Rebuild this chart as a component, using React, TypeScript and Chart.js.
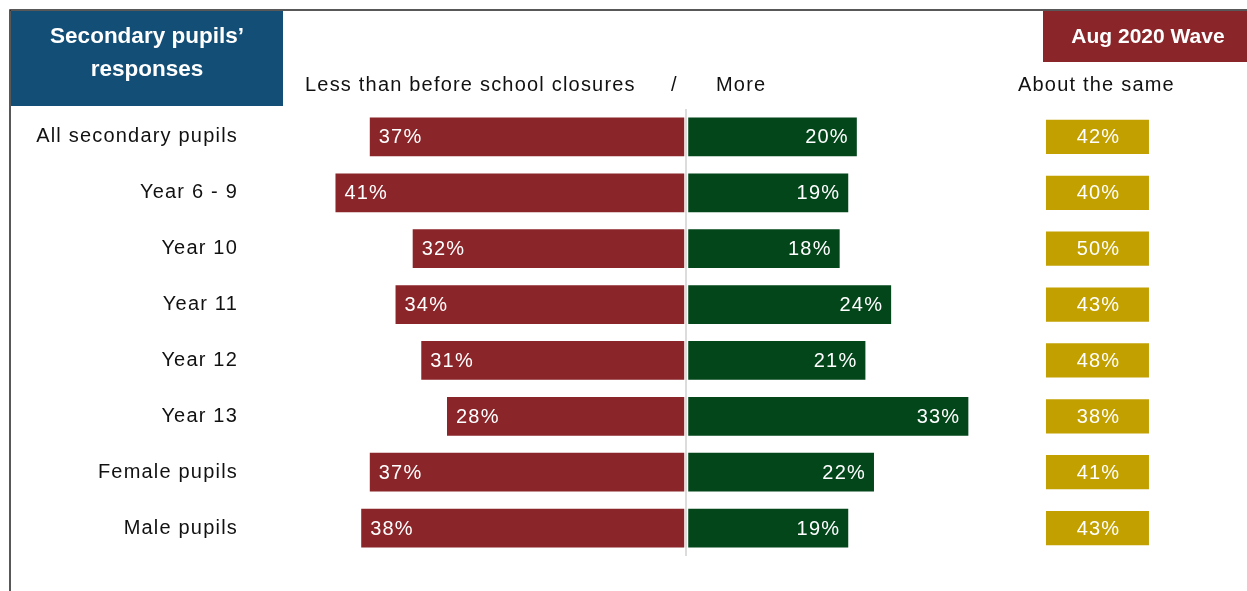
import React, { useEffect, useRef } from "react";
import { Chart, registerables } from "chart.js";

Chart.register(...registerables);

const categories = [
  "All secondary pupils",
  "Year 6 - 9",
  "Year 10",
  "Year 11",
  "Year 12",
  "Year 13",
  "Female pupils",
  "Male pupils",
];
const lessValues = [37, 41, 32, 34, 31, 28, 37, 38];
const moreValues = [20, 19, 18, 24, 21, 33, 22, 19];
const sameValues = [42, 40, 50, 43, 48, 38, 41, 43];
const columnHeaders = ["Less than before school closures", "/", "More", "About the same"];
const panelTitle = ["Secondary pupils\u2019", "responses"];
const waveLabel = "Aug 2020 Wave";

const RED = "#8A2529";
const GREEN = "#02461A";
const YELLOW = "#C2A000";
const BLUE = "#124E76";
const FONT = "'Liberation Sans', Arial, sans-serif";
const SPACING = "1.2px";
const FSIZE = 20;

export default function App() {
  const ref = useRef<HTMLCanvasElement | null>(null);

  useEffect(() => {
    document.body.style.margin = "0";
    const canvas = ref.current;
    if (!canvas) return;

    const spacingPlugin = {
      id: "spacing",
      beforeDraw(chart: any) {
        const ctx = chart.ctx;
        ctx.fillStyle = "#fff";
        ctx.fillRect(0, 0, chart.width, chart.height);
        (ctx as any).letterSpacing = SPACING;
      },
    };

    const labelsPlugin = {
      id: "barLabels",
      afterDatasetsDraw(chart: any) {
        const ctx = chart.ctx;
        ctx.save();
        (ctx as any).letterSpacing = SPACING;
        ctx.fillStyle = "#fff";
        ctx.font = `${FSIZE}px ${FONT}`;
        ctx.textBaseline = "middle";
        chart.data.datasets.forEach((ds: any, di: number) => {
          const meta = chart.getDatasetMeta(di);
          meta.data.forEach((el: any, i: number) => {
            const p = el.getProps(["x", "y", "base"], true);
            if (di === 0) {
              ctx.textAlign = "left";
              ctx.fillText(`${lessValues[i]}%`, p.x + 10, p.y + 1);
            } else if (di === 1) {
              ctx.textAlign = "right";
              ctx.fillText(`${moreValues[i]}%`, p.x - 9, p.y + 1);
            } else {
              ctx.textAlign = "center";
              ctx.fillText(`${sameValues[i]}%`, (p.x + p.base) / 2 + 1, p.y + 1);
            }
          });
        });
        ctx.restore();
      },
    };

    const framePlugin = {
      id: "frame",
      afterDraw(chart: any) {
        const ctx = chart.ctx;
        ctx.save();
        ctx.fillStyle = BLUE;
        ctx.fillRect(11, 11, 272, 95);
        ctx.fillStyle = RED;
        ctx.fillRect(1043, 11, 204, 51);
        (ctx as any).letterSpacing = "0px";
        ctx.fillStyle = "#fff";
        ctx.textAlign = "center";
        ctx.textBaseline = "middle";
        ctx.font = `bold 22.5px ${FONT}`;
        ctx.fillText(panelTitle[0], 147, 37);
        ctx.fillText(panelTitle[1], 147, 70);
        ctx.font = `bold 21px ${FONT}`;
        ctx.fillText(waveLabel, 1148, 37);
        (ctx as any).letterSpacing = SPACING;
        ctx.fillStyle = "#111";
        ctx.font = `${FSIZE}px ${FONT}`;
        ctx.textAlign = "left";
        ctx.fillText(columnHeaders[0], 305, 85);
        ctx.fillText(columnHeaders[1], 671, 85);
        ctx.fillText(columnHeaders[2], 716, 85);
        ctx.fillText(columnHeaders[3], 1018, 85);
        ctx.strokeStyle = "#222";
        ctx.lineWidth = 1.5;
        ctx.beginPath();
        ctx.moveTo(10, 591);
        ctx.lineTo(10, 10);
        ctx.lineTo(1247, 10);
        ctx.stroke();
        ctx.restore();
        (ctx as any).letterSpacing = "0px";
      },
    };

    const chart = new Chart(canvas, {
      type: "bar",
      data: {
        labels: categories,
        datasets: [
          {
            label: "Less than before school closures",
            data: lessValues.map((v) => -v),
            backgroundColor: RED,
            borderColor: "rgba(255,255,255,0.3)",
            borderWidth: 1,
            borderSkipped: false,
            xAxisID: "x",
            grouped: false,
            barPercentage: 0.73,
            categoryPercentage: 1,
          } as any,
          {
            label: "More",
            data: moreValues,
            backgroundColor: GREEN,
            borderColor: "rgba(255,255,255,0.3)",
            borderWidth: 1,
            borderSkipped: false,
            xAxisID: "x",
            grouped: false,
            barPercentage: 0.73,
            categoryPercentage: 1,
          } as any,
          {
            label: "About the same",
            data: sameValues.map(() => [0, 1]),
            backgroundColor: YELLOW,
            borderColor: "rgba(255,255,255,0.3)",
            borderWidth: 1,
            borderSkipped: false,
            xAxisID: "x2",
            grouped: false,
            barPercentage: 0.65,
            categoryPercentage: 1,
          } as any,
        ],
      },
      options: {
        indexAxis: "y",
        responsive: false,
        animation: false,
        events: [],
        layout: { padding: { top: 109, bottom: 35, left: 0, right: 46 } },
        plugins: {
          legend: { display: false },
          tooltip: { enabled: false },
          title: { display: false },
        },
        scales: {
          y: {
            type: "category",
            grid: { display: false, drawTicks: false },
            border: { display: false },
            ticks: {
              color: "#111",
              padding: 45,
              font: { size: FSIZE, family: FONT },
            },
            afterFit: (scale: any) => {
              scale.width = 283;
              scale.paddingTop = 0;
              scale.paddingBottom = 0;
            },
          },
          x: {
            type: "linear",
            position: "bottom",
            min: -47,
            max: 60,
            ticks: { display: false, stepSize: 1 },
            border: { display: false },
            grid: {
              drawTicks: false,
              lineWidth: 2,
              color: (c: any) => (c.tick && c.tick.value === 0 ? "#dcdcdc" : "transparent"),
            },
            afterFit: (scale: any) => {
              scale.height = 0;
              scale.paddingLeft = 0;
              scale.paddingRight = 0;
            },
          },
          x2: {
            type: "linear",
            display: false,
            min: -7.257,
            max: 1.486,
          },
        },
      } as any,
      plugins: [spacingPlugin, labelsPlugin, framePlugin],
    });

    return () => chart.destroy();
  }, []);

  return (
    <div style={{ width: 1247, height: 591 }}>
      <canvas ref={ref} width={1247} height={591} style={{ display: "block" }} />
    </div>
  );
}
